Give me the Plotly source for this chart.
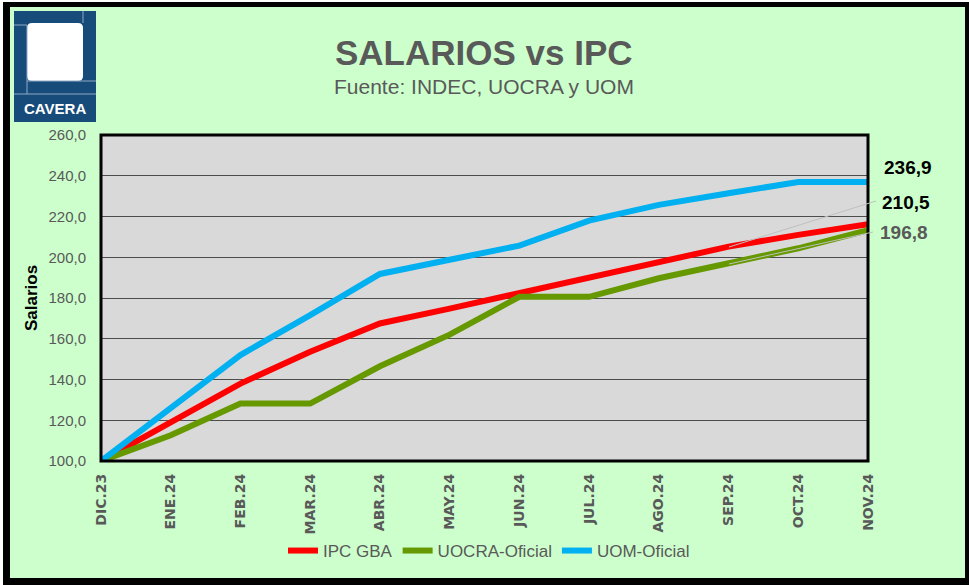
import plotly.graph_objects as go

# ---- data ----
meses = ["DIC.23", "ENE.24", "FEB.24", "MAR.24", "ABR.24", "MAY.24",
         "JUN.24", "JUL.24", "AGO.24", "SEP.24", "OCT.24", "NOV.24"]
ipc_gba = [100.0, 119.0, 138.0, 153.6, 167.5, 174.8, 182.3, 189.7, 197.8, 205.2, 211.0, 216.2]
uocra = [100.0, 112.6, 128.2, 128.2, 146.5, 162.0, 180.6, 180.6, 189.7, 197.0, 204.4, 213.3]
uom = [100.0, 125.7, 152.0, 171.6, 191.8, 198.8, 205.7, 218.0, 225.7, 231.4, 236.9, 236.9]
y_ticks = [100, 120, 140, 160, 180, 200, 220, 240, 260]
etiquetas = ["236,9", "210,5", "196,8"]

W, H = 969, 585
PL, PR, PT, PB = 101, 868, 135, 461


def px(x):
    return (x - PL) / (PR - PL)


def py(y):
    return (PB - y) / (PB - PT)


fig = go.Figure()
fig.add_trace(go.Scatter(x=meses, y=ipc_gba, name="IPC GBA", mode="lines",
                         line=dict(color="#FF0000", width=6)))
fig.add_trace(go.Scatter(x=meses, y=uocra, name="UOCRA-Oficial", mode="lines",
                         line=dict(color="#669900", width=6)))
fig.add_trace(go.Scatter(x=meses, y=uom, name="UOM-Oficial", mode="lines",
                         line=dict(color="#00B0F0", width=6)))

shapes = []
# black frame + outer green panel
shapes.append(dict(type="rect", xref="paper", yref="paper", layer="below",
                   x0=px(3), x1=px(969), y0=py(585), y1=py(2),
                   fillcolor="black", line=dict(width=0)))
shapes.append(dict(type="rect", xref="paper", yref="paper", layer="below",
                   x0=px(10), x1=px(965), y0=py(578), y1=py(7),
                   fillcolor="#CCFFCC", line=dict(width=0)))
# plot area background
shapes.append(dict(type="rect", xref="paper", yref="paper", layer="below",
                   x0=0, x1=1, y0=0, y1=1,
                   fillcolor="#D9D9D9", line=dict(width=0)))
# plot border
shapes.append(dict(type="rect", xref="paper", yref="paper", layer="above",
                   x0=0, x1=1, y0=0, y1=1,
                   line=dict(color="black", width=3)))

# logo
logo = "#174B7A"
shapes.append(dict(type="rect", xref="paper", yref="paper", layer="above",
                   x0=px(14), x1=px(96), y0=py(122), y1=py(11),
                   fillcolor=logo, line=dict(width=0)))
# white rounded square
x0, x1, y0, y1, r = 27, 83, 23, 81, 5
path = (f"M {px(x0 + r)},{py(y0)} L {px(x1 - r)},{py(y0)} "
        f"Q {px(x1)},{py(y0)} {px(x1)},{py(y0 + r)} L {px(x1)},{py(y1 - r)} "
        f"Q {px(x1)},{py(y1)} {px(x1 - r)},{py(y1)} L {px(x0 + r)},{py(y1)} "
        f"Q {px(x0)},{py(y1)} {px(x0)},{py(y1 - r)} L {px(x0)},{py(y0 + r)} "
        f"Q {px(x0)},{py(y0)} {px(x0 + r)},{py(y0)} Z")
shapes.append(dict(type="path", xref="paper", yref="paper", layer="above",
                   path=path, fillcolor="white", line=dict(width=0)))
lc = "#8FA9C4"
for (ax0, ay0, ax1, ay1) in [(27, 25, 27, 94), (27, 81, 96, 81), (83, 11, 83, 23),
                             (14, 25, 27, 25), (14, 94, 96, 94)]:
    shapes.append(dict(type="line", xref="paper", yref="paper", layer="above",
                       x0=px(ax0), x1=px(ax1), y0=py(ay0), y1=py(ay1),
                       line=dict(color=lc, width=1)))

# leader lines for labels
shapes.append(dict(type="line", xref="paper", yref="paper", layer="above",
                   x0=px(876), y0=py(201), x1=px(729), y1=py(247),
                   line=dict(color="#BFBFBF", width=1)))
shapes.append(dict(type="line", xref="paper", yref="paper", layer="above",
                   x0=px(873), y0=py(232), x1=px(729), y1=py(264),
                   line=dict(color="#BFBFBF", width=1)))

annotations = [
    dict(text="<b>SALARIOS vs IPC</b>", x=px(484), y=py(53), xref="paper", yref="paper",
         showarrow=False, xanchor="center", yanchor="middle",
         font=dict(family="Liberation Sans, Arial", size=35, color="#595959")),
    dict(text="Fuente: INDEC, UOCRA y UOM", x=px(484), y=py(86), xref="paper", yref="paper",
         showarrow=False, xanchor="center", yanchor="middle",
         font=dict(family="Liberation Sans, Arial", size=21, color="#595959")),
    dict(text="<b>CAVERA</b>", x=px(55), y=py(108), xref="paper", yref="paper",
         showarrow=False, xanchor="center", yanchor="middle",
         font=dict(family="Liberation Sans, Arial", size=15, color="white")),
    dict(text="<b>Salarios</b>", x=px(31), y=py(298), xref="paper", yref="paper",
         showarrow=False, xanchor="center", yanchor="middle", textangle=-90,
         font=dict(family="Liberation Sans, Arial", size=17, color="black")),
    dict(text=f"<b>{etiquetas[0]}</b>", x=px(908), y=py(167), xref="paper", yref="paper",
         showarrow=False, xanchor="center", yanchor="middle",
         font=dict(family="Liberation Sans, Arial", size=19, color="black")),
    dict(text=f"<b>{etiquetas[1]}</b>", x=px(906), y=py(202), xref="paper", yref="paper",
         showarrow=False, xanchor="center", yanchor="middle",
         font=dict(family="Liberation Sans, Arial", size=19, color="black")),
    dict(text=f"<b>{etiquetas[2]}</b>", x=px(904), y=py(232), xref="paper", yref="paper",
         showarrow=False, xanchor="center", yanchor="middle",
         font=dict(family="Liberation Sans, Arial", size=19, color="#595959")),
]

fig.update_layout(
    width=W, height=H, autosize=False,
    margin=dict(l=PL, r=W - PR, t=PT, b=H - PB, pad=0),
    paper_bgcolor="white",
    plot_bgcolor="rgba(0,0,0,0)",
    separators=",.",
    shapes=shapes,
    annotations=annotations,
    showlegend=True,
    legend=dict(orientation="h", x=px(489), xanchor="center",
                y=py(551), yanchor="middle", bgcolor="rgba(0,0,0,0)",
                font=dict(family="Liberation Sans, Arial", size=17, color="#595959"),
                itemwidth=30, tracegroupgap=0),
    xaxis=dict(type="category", range=[0, len(meses) - 1], showgrid=False,
               tickangle=-90, ticks="", zeroline=False,
               tickfont=dict(family="DejaVu Sans", size=14, color="#595959", weight="bold"),
               ticklabelstandoff=9),
    yaxis=dict(range=[100, 260], tickvals=y_ticks, tickformat=".1f",
               showgrid=True, gridcolor="#4D4D4D", gridwidth=1, zeroline=False,
               ticks="", ticklabelstandoff=14,
               tickfont=dict(family="Liberation Sans, Arial", size=15, color="#595959")),
)

fig.write_html("out.html", config={"displayModeBar": False},
               post_script="document.body.style.margin='0';document.body.style.overflow='hidden';")
